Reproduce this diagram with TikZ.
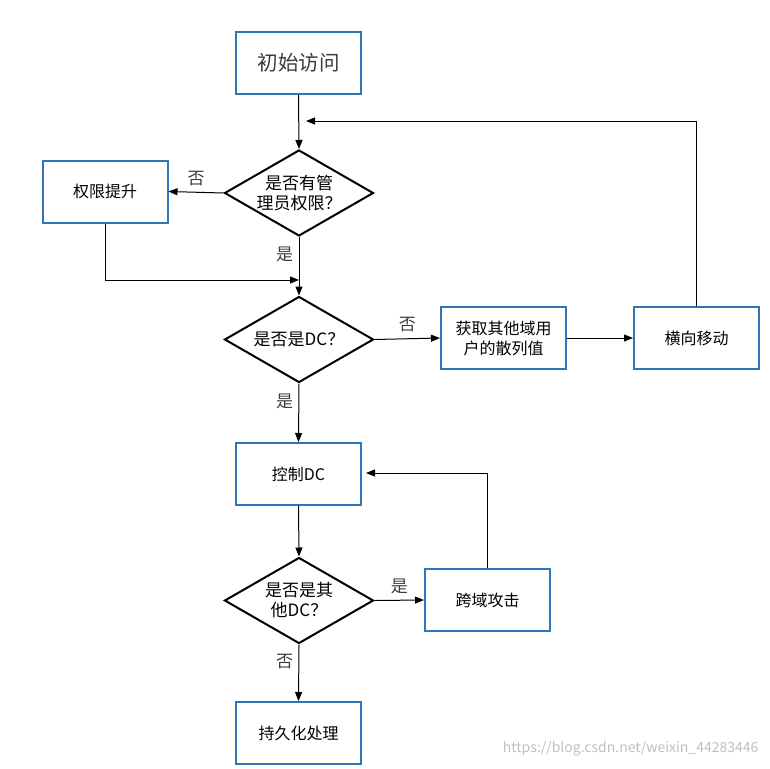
\documentclass[tikz,border=0pt]{standalone}
\usepackage{fontspec}
\setmainfont{Noto Sans CJK SC}
\usetikzlibrary{arrows.meta,positioning,shapes.geometric}
\definecolor{flowblue}{RGB}{46,117,182}
\definecolor{flowgray}{RGB}{60,60,60}
\tikzset{
  pbox/.style={draw=flowblue, line width=2pt, fill=white, minimum width=125pt,
    minimum height=62pt, inner sep=0pt, align=center, font=\fontsize{16}{20}\selectfont},
  pdiam/.style={diamond, draw=black, line width=2pt, minimum width=149pt,
    minimum height=86pt, aspect=1.73, inner sep=0pt, align=center,
    font=\fontsize{17}{20}\selectfont},
  arr/.style={-{Triangle[length=9pt,width=7pt]}, line width=1pt, black},
  lbl/.style={font=\fontsize{17}{20}\selectfont, flowgray}
}
\begin{document}
\begin{tikzpicture}[x=1pt,y=-1pt]
  \useasboundingbox (0,0) rectangle (770,768);
  % nodes
  \node[pbox, font=\fontsize{20.5}{24}\selectfont, text=flowgray] (init) at (298.5,63) {初始访问};
  \node[pdiam] (admin) at (299,193) {是否有管\\理员权限？};
  \node[pbox] (priv) at (105,191.5) {权限提升};
  \node[pdiam] (isdc) at (299,339.5) {是否是DC？};
  \node[pbox] (hash) at (503.5,338) {获取其他域用\\户的散列值};
  \node[pbox] (lateral) at (696.5,338) {横向移动};
  \node[pbox] (ctrl) at (298.5,474) {控制DC};
  \node[pdiam] (other) at (299,600.5) {是否是其\\他DC？};
  \node[pbox] (cross) at (487.5,600) {跨域攻击};
  \node[pbox] (persist) at (298.5,733) {持久化处理};
  \coordinate (join) at (299,280);
  \coordinate (back) at (306,121);
  \coordinate (ctrlin) at (366,473);
  % connectors
  \draw[arr] (init.south) -- (admin.north);
  \draw[arr] (admin.west) -- node[lbl, above=3pt] {否} (priv.east);
  \draw[arr] (priv.south) |- (join);
  \draw[arr] (admin.south) -- node[lbl, pos=0.3, left=2pt] {是} (isdc.north);
  \draw[arr] (isdc.east) -- node[lbl, above=3pt] {否} (hash.west);
  \draw[arr] (hash.east) -- (lateral.west);
  \draw[arr] (lateral.north) |- (back);
  \draw[arr] (isdc.south) -- node[lbl, pos=0.3, left=2pt] {是} (ctrl.north);
  \draw[arr] (ctrl.south) -- (other.north);
  \draw[arr] (other.east) -- node[lbl, above=3pt] {是} (cross.west);
  \draw[arr] (cross.north) |- (ctrlin);
  \draw[arr] (other.south) -- node[lbl, pos=0.3, left=2pt] {否} (persist.north);
  % watermark
  \node[anchor=east, font=\fontsize{14}{16}\selectfont, text=black!25] (mark) at (762,749) {https://blog.csdn.net/weixin\_44283446};
\end{tikzpicture}
\end{document}
